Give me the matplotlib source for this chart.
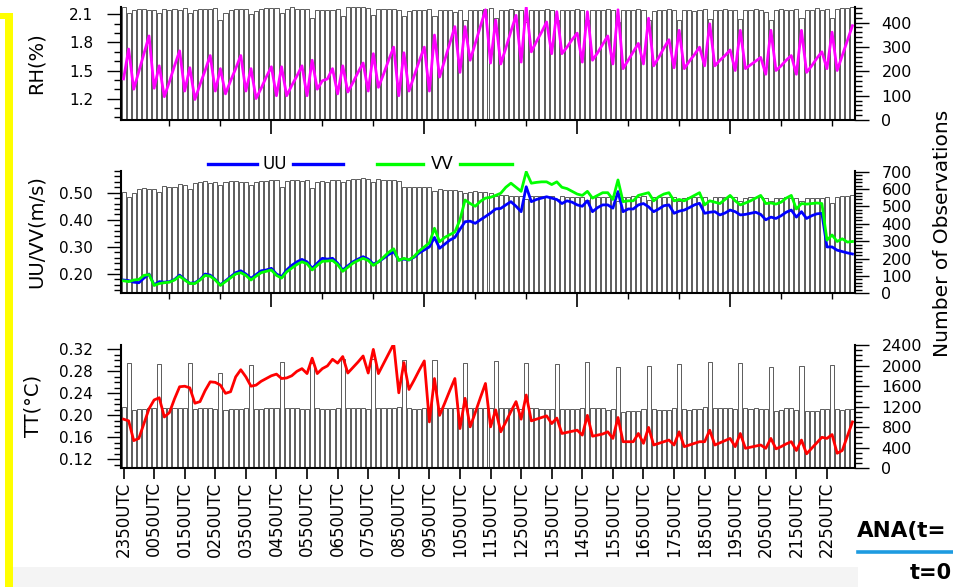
import numpy as np
import matplotlib
matplotlib.use("Agg")
import matplotlib.pyplot as plt
from matplotlib.lines import Line2D
from matplotlib.patches import Rectangle
from matplotlib.ticker import FixedLocator, MultipleLocator, FormatStrFormatter

# 10-minute time steps, 2350UTC .. 2340UTC
steps = np.arange(1, 145)

hour_labels = ["2350UTC", "0050UTC", "0150UTC", "0250UTC", "0350UTC", "0450UTC",
               "0550UTC", "0650UTC", "0750UTC", "0850UTC", "0950UTC", "1050UTC",
               "1150UTC", "1250UTC", "1350UTC", "1450UTC", "1550UTC", "1650UTC",
               "1750UTC", "1850UTC", "1950UTC", "2050UTC", "2150UTC", "2250UTC"]
hour_steps = list(range(1, 145, 6))

rh = [1.41, 1.73, 1.30, 1.49, 1.68, 1.87, 1.31, 1.55, 1.22, 1.38, 1.55, 1.71,
      1.28, 1.53, 1.19, 1.35, 1.50, 1.66, 1.28, 1.52, 1.25, 1.39, 1.52, 1.66,
      1.28, 1.52, 1.20, 1.31, 1.43, 1.54, 1.23, 1.54, 1.23, 1.34, 1.44, 1.55,
      1.23, 1.61, 1.30, 1.39, 1.41, 1.52, 1.25, 1.55, 1.27, 1.37, 1.48, 1.58,
      1.28, 1.68, 1.32, 1.46, 1.61, 1.75, 1.23, 1.69, 1.28, 1.44, 1.60, 1.75,
      1.28, 1.88, 1.43, 1.61, 1.79, 1.97, 1.48, 1.97, 1.61, 1.79, 1.97, 2.15,
      1.58, 2.04, 1.57, 1.74, 1.92, 2.09, 1.59, 2.18, 1.70, 1.81, 1.91, 2.02,
      1.68, 2.13, 1.68, 1.75, 1.83, 1.90, 1.59, 2.13, 1.61, 1.69, 1.78, 1.87,
      1.57, 2.15, 1.52, 1.61, 1.70, 1.79, 1.57, 2.06, 1.55, 1.64, 1.74, 1.83,
      1.53, 1.93, 1.52, 1.60, 1.67, 1.75, 1.55, 2.00, 1.55, 1.61, 1.66, 1.72,
      1.50, 1.93, 1.52, 1.56, 1.60, 1.64, 1.46, 1.93, 1.50, 1.55, 1.61, 1.66,
      1.46, 1.93, 1.48, 1.55, 1.63, 1.70, 1.52, 1.91, 1.50, 1.66, 1.82, 1.98]

rh_obs = [466, 440, 452, 455, 455, 453, 452, 438, 455, 452, 455, 452,
          460, 440, 452, 455, 455, 455, 460, 412, 440, 452, 455, 455,
          455, 435, 448, 455, 458, 458, 458, 438, 455, 462, 455, 455,
          455, 418, 452, 452, 450, 452, 455, 425, 463, 463, 463, 463,
          460, 432, 455, 455, 455, 455, 452, 425, 448, 450, 450, 452,
          455, 425, 452, 452, 450, 445, 452, 411, 452, 452, 450, 455,
          458, 420, 452, 452, 455, 452, 450, 404, 452, 452, 452, 455,
          450, 411, 452, 452, 452, 455, 452, 410, 450, 452, 452, 455,
          452, 404, 452, 452, 452, 455, 452, 411, 448, 452, 452, 455,
          452, 411, 452, 450, 448, 452, 455, 414, 452, 452, 455, 452,
          452, 414, 452, 452, 455, 450, 445, 411, 450, 455, 452, 452,
          455, 418, 452, 452, 458, 452, 455, 418, 455, 458, 460, 462]

uu = [0.178, 0.176, 0.170, 0.168, 0.185, 0.200, 0.160, 0.172, 0.170, 0.172, 0.180, 0.196,
      0.180, 0.166, 0.168, 0.180, 0.200, 0.196, 0.180, 0.160, 0.175, 0.190, 0.205, 0.212,
      0.200, 0.184, 0.198, 0.212, 0.215, 0.221, 0.200, 0.190, 0.215, 0.232, 0.245, 0.254,
      0.245, 0.221, 0.240, 0.258, 0.255, 0.258, 0.240, 0.215, 0.230, 0.245, 0.255, 0.264,
      0.255, 0.237, 0.245, 0.258, 0.272, 0.282, 0.252, 0.255, 0.252, 0.262, 0.278, 0.289,
      0.300, 0.335, 0.295, 0.310, 0.325, 0.335, 0.365, 0.393, 0.395, 0.387, 0.400, 0.412,
      0.425, 0.440, 0.442, 0.455, 0.467, 0.450, 0.430, 0.522, 0.467, 0.475, 0.480, 0.485,
      0.480, 0.475, 0.460, 0.470, 0.465, 0.455, 0.450, 0.470, 0.430, 0.445, 0.455, 0.455,
      0.443, 0.504, 0.430, 0.440, 0.440, 0.455, 0.460, 0.448, 0.430, 0.440, 0.452, 0.455,
      0.424, 0.432, 0.436, 0.445, 0.455, 0.461, 0.424, 0.428, 0.430, 0.418, 0.425, 0.436,
      0.430, 0.418, 0.420, 0.424, 0.428, 0.420, 0.400, 0.410, 0.405, 0.415, 0.428, 0.436,
      0.410, 0.430, 0.405, 0.415, 0.422, 0.424, 0.300, 0.300, 0.288, 0.283, 0.278, 0.274]

vv = [0.175, 0.172, 0.178, 0.180, 0.195, 0.198, 0.158, 0.165, 0.168, 0.170, 0.178, 0.192,
      0.178, 0.165, 0.165, 0.178, 0.195, 0.192, 0.178, 0.158, 0.172, 0.186, 0.200, 0.205,
      0.195, 0.178, 0.192, 0.205, 0.210, 0.215, 0.195, 0.185, 0.208, 0.222, 0.235, 0.245,
      0.238, 0.215, 0.232, 0.247, 0.248, 0.250, 0.235, 0.210, 0.225, 0.240, 0.250, 0.258,
      0.250, 0.232, 0.245, 0.262, 0.280, 0.293, 0.250, 0.258, 0.252, 0.265, 0.285, 0.300,
      0.315, 0.369, 0.319, 0.335, 0.345, 0.355, 0.400, 0.473, 0.460, 0.450, 0.468, 0.480,
      0.483, 0.490, 0.498, 0.520, 0.535, 0.520, 0.505, 0.577, 0.535, 0.538, 0.540, 0.540,
      0.530, 0.540, 0.520, 0.515, 0.505, 0.495, 0.490, 0.505, 0.480, 0.490, 0.500, 0.500,
      0.475, 0.547, 0.467, 0.470, 0.470, 0.490, 0.495, 0.500, 0.470, 0.485, 0.495, 0.500,
      0.470, 0.475, 0.470, 0.480, 0.490, 0.500, 0.455, 0.470, 0.465, 0.460, 0.475, 0.490,
      0.470, 0.455, 0.462, 0.470, 0.480, 0.490, 0.460, 0.462, 0.458, 0.465, 0.480, 0.490,
      0.440, 0.460, 0.458, 0.460, 0.462, 0.460, 0.325, 0.344, 0.320, 0.330, 0.318, 0.320]

uv_obs = [585, 556, 576, 599, 604, 599, 599, 585, 618, 614, 614, 629,
          624, 599, 633, 639, 648, 633, 643, 623, 643, 648, 648, 643,
          643, 623, 638, 648, 648, 652, 652, 612, 648, 652, 652, 648,
          652, 604, 643, 648, 643, 652, 655, 640, 655, 658, 660, 662,
          660, 640, 658, 655, 652, 650, 648, 610, 614, 612, 614, 610,
          612, 590, 599, 595, 595, 592, 590, 575, 585, 587, 585, 583,
          580, 560, 566, 563, 562, 560, 560, 540, 560, 558, 560, 558,
          558, 540, 558, 556, 556, 557, 556, 536, 554, 556, 556, 556,
          558, 530, 555, 556, 558, 556, 558, 538, 552, 556, 556, 554,
          556, 532, 548, 552, 554, 556, 554, 538, 556, 554, 552, 554,
          552, 530, 548, 552, 552, 554, 550, 532, 548, 550, 552, 550,
          548, 532, 546, 548, 550, 548, 556, 520, 556, 558, 562, 568]

tt = [0.193, 0.190, 0.154, 0.158, 0.185, 0.212, 0.228, 0.232, 0.197, 0.205, 0.230, 0.252,
      0.253, 0.250, 0.222, 0.225, 0.245, 0.261, 0.260, 0.255, 0.240, 0.243, 0.270, 0.283,
      0.270, 0.253, 0.255, 0.262, 0.267, 0.272, 0.275, 0.267, 0.268, 0.272, 0.280, 0.285,
      0.276, 0.304, 0.276, 0.285, 0.290, 0.302, 0.295, 0.307, 0.277, 0.287, 0.297, 0.308,
      0.277, 0.320, 0.276, 0.294, 0.312, 0.330, 0.241, 0.296, 0.247, 0.264, 0.282, 0.299,
      0.188, 0.267, 0.200, 0.222, 0.245, 0.267, 0.176, 0.231, 0.179, 0.205, 0.232, 0.258,
      0.179, 0.210, 0.170, 0.188, 0.207, 0.225, 0.193, 0.237, 0.190, 0.193, 0.196, 0.199,
      0.185, 0.195, 0.167, 0.169, 0.171, 0.173, 0.164, 0.200, 0.162, 0.164, 0.166, 0.170,
      0.158, 0.196, 0.152, 0.152, 0.152, 0.167, 0.149, 0.178, 0.146, 0.149, 0.152, 0.155,
      0.146, 0.170, 0.143, 0.146, 0.149, 0.152, 0.152, 0.173, 0.146, 0.150, 0.154, 0.158,
      0.143, 0.167, 0.140, 0.142, 0.144, 0.146, 0.140, 0.158, 0.139, 0.143, 0.148, 0.152,
      0.136, 0.155, 0.130, 0.140, 0.150, 0.160, 0.158, 0.165, 0.131, 0.136, 0.162, 0.188]

tt_obs = [1187, 2044, 1135, 1150, 1160, 1165, 1170, 2024, 1168, 1175, 1180, 1180,
          1165, 2044, 1160, 1165, 1170, 1170, 1160, 1849, 1140, 1150, 1155, 1150,
          1170, 2011, 1150, 1160, 1165, 1170, 1165, 2063, 1170, 1170, 1165, 1160,
          1155, 2050, 1165, 1160, 1155, 1150, 1165, 2121, 1175, 1175, 1170, 1165,
          1160, 2121, 1170, 1170, 1165, 1180, 1190, 2108, 1170, 1160, 1160, 1175,
          1165, 2108, 1165, 1170, 1170, 1170, 1170, 2056, 1170, 1170, 1170, 1165,
          1165, 2089, 1165, 1170, 1165, 1165, 1160, 2044, 1170, 1165, 1160, 1150,
          1160, 2024, 1160, 1155, 1160, 1160, 1170, 2063, 1170, 1170, 1165, 1140,
          1160, 1966, 1100, 1115, 1120, 1115, 1160, 1991, 1145, 1130, 1140, 1140,
          1165, 2024, 1150, 1135, 1150, 1160, 1185, 2063, 1170, 1165, 1170, 1170,
          1160, 2044, 1165, 1150, 1165, 1150, 1160, 1966, 1125, 1130, 1165, 1165,
          1130, 1991, 1120, 1125, 1120, 1155, 1160, 2005, 1160, 1140, 1155, 1160]

W, H = 954, 587
fig = plt.figure(figsize=(W / 100, H / 100), dpi=100)
fig.patch.set_facecolor("white")


def box(l, t, r, b):
    return [l / W, 1 - b / H, (r - l) / W, (b - t) / H]


def fx(x):
    return x / W


def fy(y):
    return 1 - y / H


def panel(rect, obs, obs_lim, obs_major, obs_minor, lim, major, minor, fmt, time_axis):
    ax = fig.add_axes(rect)
    ax.bar(steps, obs, width=0.8, color="white", edgecolor="#303030", linewidth=0.55)
    ax.set_xlim(0.5, 144.5)
    ax.set_ylim(*obs_lim)
    ax2 = ax.twinx()
    ax2.set_ylim(*lim)
    ax2.set_xlim(0.5, 144.5)

    # observation counts on the right, analysis values on the left
    ax.yaxis.tick_right()
    ax2.yaxis.tick_left()
    ax.yaxis.set_major_locator(MultipleLocator(obs_major))
    ax.yaxis.set_minor_locator(MultipleLocator(obs_minor))
    ax2.yaxis.set_major_locator(MultipleLocator(major))
    ax2.yaxis.set_minor_locator(MultipleLocator(minor))
    ax2.yaxis.set_major_formatter(FormatStrFormatter(fmt))

    for s in ax.spines.values():
        s.set_linewidth(1.5)
    ax.spines["top"].set_visible(False)
    for s in ax2.spines.values():
        s.set_visible(False)

    ax.tick_params(axis="y", which="major", direction="out", length=10, width=1.0,
                   labelsize=11.5, pad=9, right=True, left=False)
    ax.tick_params(axis="y", which="minor", direction="out", length=5, width=1.0,
                   right=True, left=False)
    ax2.tick_params(axis="y", which="major", direction="out", length=10, width=1.0,
                    labelsize=11, pad=10)
    ax2.tick_params(axis="y", which="minor", direction="out", length=5, width=1.0)

    if time_axis:
        ax.xaxis.set_major_locator(FixedLocator(hour_steps))
        ax.set_xticklabels(hour_labels, rotation=90, fontsize=12)
        ax.tick_params(axis="x", which="major", direction="out", length=8, width=1.2, pad=1.5)
    else:
        ax.xaxis.set_major_locator(FixedLocator([30, 60, 90, 120]))
        ax.xaxis.set_minor_locator(FixedLocator([10, 20, 40, 50, 70, 80, 100, 110, 130, 140]))
        ax.tick_params(axis="x", which="major", direction="out", length=10, width=1.2,
                       labelbottom=False)
        ax.tick_params(axis="x", which="minor", direction="out", length=4.5, width=1.0)
    return ax, ax2


ax1, ax1b = panel(box(121, 7, 855, 120), rh_obs, (0, 464), 100, 20,
                  (0.97, 2.18), 0.3, 0.1, "%.1f", False)
ax1b.plot(steps, rh, color="#FF00FF", lw=2.0)

ax2, ax2b = panel(box(121, 171, 855, 293.3), uv_obs, (0, 704), 100, 20,
                  (0.129, 0.58), 0.1, 0.02, "%.2f", False)
ax2b.plot(steps, uu, color="#0000FF", lw=2.0)
ax2b.plot(steps, vv, color="#00FF00", lw=2.0)

ax3, ax3b = panel(box(121, 345, 855, 468.3), tt_obs, (0, 2400), 400, 100,
                  (0.1036, 0.328), 0.04, 0.01, "%.2f", True)
ax3b.plot(steps, tt, color="#FF0000", lw=2.0)

# axis titles
fig.text(fx(36), fy(63.5), "RH(%)", rotation=90, ha="center", va="center", fontsize=14)
fig.text(fx(36), fy(232), "UU/VV(m/s)", rotation=90, ha="center", va="center", fontsize=14)
fig.text(fx(33), fy(406), "TT(\u00b0C)", rotation=90, ha="center", va="center", fontsize=14)
fig.text(fx(943), fy(233), "Number of Observations", rotation=90, ha="center",
         va="center", fontsize=14.5)

# legend of the wind panel
for (x0, x1), (x2, x3), xt, name, col in [((208, 257), (293, 343), 275, "UU", "#0000FF"),
                                          ((377, 423), (460, 512), 442, "VV", "#00FF00")]:
    fig.add_artist(Line2D([fx(x0), fx(x1)], [fy(164), fy(164)], color=col, lw=2.4))
    fig.add_artist(Line2D([fx(x2), fx(x3)], [fy(164), fy(164)], color=col, lw=2.4))
    fig.text(fx(xt), fy(164), name, ha="center", va="center", fontsize=12)

# page decorations around the figure
fig.add_artist(Rectangle((fx(5), fy(587)), fx(7.7), (587 - 13) / H,
                         transform=fig.transFigure, color="#FFFF00", lw=0))
fig.add_artist(Rectangle((0, fy(19)), fx(12.7), 6 / H,
                         transform=fig.transFigure, color="#FFFF00", lw=0))
fig.add_artist(Rectangle((fx(12.7), 0), fx(858 - 12.7), 20 / H,
                         transform=fig.transFigure, color="#F4F4F4", lw=0))
fig.text(fx(857), fy(531), "ANA(t=", ha="left", va="center", fontsize=15.5,
         fontweight="bold", family="DejaVu Sans")
fig.add_artist(Line2D([fx(858), 1.0], [fy(551.5), fy(551.5)], color="#1E9BE0", lw=2.6))
fig.text(fx(952), fy(573), "t=0", ha="right", va="center", fontsize=15,
         fontweight="bold", family="DejaVu Sans")

fig.savefig("out.png", dpi=100)
